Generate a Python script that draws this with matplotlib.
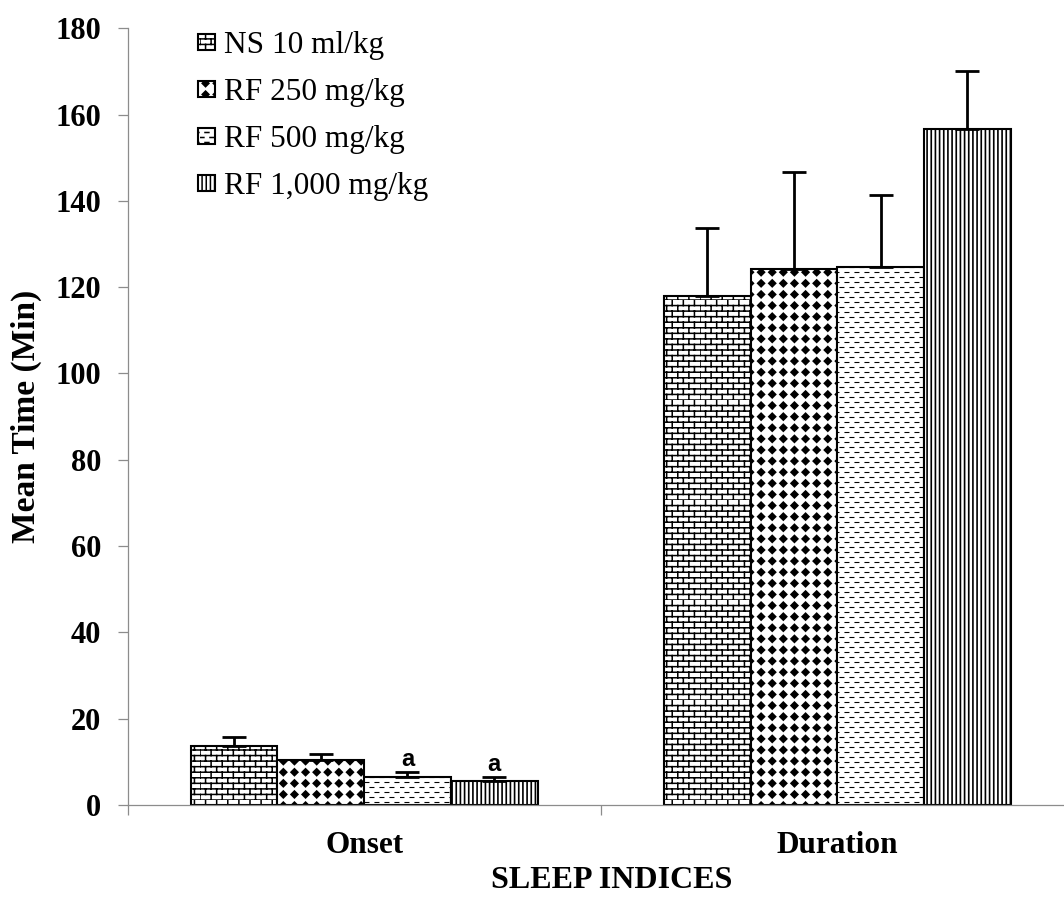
import warnings
import numpy as np
import matplotlib
matplotlib.use("Agg")
import matplotlib.pyplot as plt
from matplotlib import hatch as mhatch
from matplotlib.path import Path

warnings.filterwarnings("ignore")

# ---------------- data ----------------
categories = ["Onset", "Duration"]
groups = ["NS 10 ml/kg", "RF 250 mg/kg", "RF 500 mg/kg", "RF 1,000 mg/kg"]
ns_mean = [13.7, 117.9]
rf250_mean = [10.4, 124.2]
rf500_mean = [6.4, 124.7]
rf1000_mean = [5.6, 156.6]
ns_err = [2.1, 15.8]
rf250_err = [1.5, 22.5]
rf500_err = [1.2, 16.7]
rf1000_err = [0.8, 13.6]
ns_sig = ["", ""]
rf250_sig = ["", ""]
rf500_sig = ["a", ""]
rf1000_sig = ["a", ""]
yticks = [0, 20, 40, 60, 80, 100, 120, 140, 160, 180]

means = [ns_mean, rf250_mean, rf500_mean, rf1000_mean]
errs = [ns_err, rf250_err, rf500_err, rf1000_err]
sigs = [ns_sig, rf250_sig, rf500_sig, rf1000_sig]


# ---------------- custom hatch patterns ----------------
class BrickHatch(mhatch.HatchPatternBase):
    def __init__(self, hatch, density):
        self.on = "b" in hatch
        self.rows = 18
        self.cols = 9
        self.num_vertices = (2 * self.rows + 2 * self.rows * self.cols) if self.on else 0

    def set_vertices_and_codes(self, vertices, codes):
        r, c = self.rows, self.cols
        verts = []
        for i in range(r):
            y0, y1 = i / r, (i + 1) / r
            verts += [(0, y0), (1, y0)]
            off = 0.5 * (i % 2) / c
            for j in range(c):
                x = j / c + off
                verts += [(x, y0), (x, y1)]
        vertices[:] = verts
        codes[0::2] = Path.MOVETO
        codes[1::2] = Path.LINETO


class DiamondHatch(mhatch.HatchPatternBase):
    def __init__(self, hatch, density):
        self.on = "d" in hatch
        self.n = 9
        self.num_vertices = 5 * self.n * self.n if self.on else 0

    def set_vertices_and_codes(self, vertices, codes):
        n = self.n
        h = 0.034
        k = 0
        for i in range(n):
            for j in range(n):
                cx, cy = (j + 0.5) / n, (i + 0.5) / n
                vertices[k:k + 5] = [(cx - h, cy), (cx, cy - h), (cx + h, cy),
                                     (cx, cy + h), (cx - h, cy)]
                codes[k] = Path.MOVETO
                codes[k + 1:k + 4] = Path.LINETO
                codes[k + 4] = Path.CLOSEPOLY
                k += 5


class DashHatch(mhatch.HatchPatternBase):
    def __init__(self, hatch, density):
        self.on = "e" in hatch
        self.rows = 20
        self.m = 10
        self.num_vertices = 2 * self.rows * self.m if self.on else 0

    def set_vertices_and_codes(self, vertices, codes):
        r, m = self.rows, self.m
        L = 0.039
        verts = []
        for i in range(r):
            y = (i + 0.5) / r
            off = 0.5 * (i % 2) / m
            for j in range(m):
                x = j / m + off
                verts += [(x, y), (x + L, y)]
        vertices[:] = verts
        codes[0::2] = Path.MOVETO
        codes[1::2] = Path.LINETO


mhatch._hatch_types.extend([BrickHatch, DiamondHatch, DashHatch])

hatches = ["b", "d", "e", "||||"]
hatch_lw = [1.1, 1.2, 0.8, 1.2]

# ---------------- figure ----------------
plt.rcParams["font.family"] = ["Liberation Serif", "DejaVu Serif"]
plt.rcParams["hatch.linewidth"] = 1.1

fig = plt.figure(figsize=(10.64, 9.07), dpi=100)
ax = fig.add_axes([127.5 / 1064, 102 / 907, (1074 - 127.5) / 1064, (878.7 - 102) / 907])

x = np.arange(len(categories))
width = 0.1833
offsets = (np.arange(len(groups)) - 1.5) * width
gray = "#8c8c8c"

for k, grp in enumerate(groups):
    xpos = x + offsets[k]
    with plt.rc_context({"hatch.linewidth": hatch_lw[k]}):
        bars = ax.bar(xpos, means[k], width, color="white", edgecolor="black",
                      linewidth=1.5, hatch=hatches[k], label=grp, zorder=2)
    for b in bars:
        if hasattr(b, "set_hatch_linewidth"):
            b.set_hatch_linewidth(hatch_lw[k])
    ax.errorbar(xpos, means[k], yerr=[np.zeros(len(categories)), errs[k]],
                fmt="none", ecolor="black", elinewidth=2, capsize=8.5,
                capthick=2, zorder=3)
    for i, s in enumerate(sigs[k]):
        if s:
            ax.annotate(s, xy=(xpos[i], means[k][i] + errs[k][i]),
                        xytext=(0, 4.5), textcoords="offset points",
                        ha="center", va="baseline", fontsize=17,
                        fontweight="bold", family="Liberation Sans")

ax.set_xlim(-0.5, 1.5)
ax.set_ylim(0, 180)
ax.set_yticks(yticks)
ax.set_yticklabels([str(v) for v in yticks], fontsize=22, fontweight="bold")
ax.set_xticks(x)
ax.set_xticklabels(categories, fontsize=22.5, fontweight="bold")
ax.set_xticks([-0.5, 0.5, 1.5], minor=True)
ax.tick_params(axis="x", which="major", length=0, pad=19)
ax.tick_params(axis="x", which="minor", length=7, width=0.9, color=gray)
ax.tick_params(axis="y", length=7, width=0.9, color=gray, pad=12)

for side in ["top", "right"]:
    ax.spines[side].set_visible(False)
for side in ["left", "bottom"]:
    ax.spines[side].set_color(gray)
    ax.spines[side].set_linewidth(0.9)

fig.text(26 / 1064, 1 - 416 / 907, "Mean Time (Min)", rotation=90,
         ha="center", va="center", fontsize=24, fontweight="bold")
fig.text(612 / 1064, 1 - 880 / 907, "SLEEP INDICES", ha="center", va="center",
         fontsize=23, fontweight="bold")

leg = ax.legend(loc="upper left",
                bbox_to_anchor=((198 - 127.5) / 946.5, 1 - (31 - 28.3) / 776.4),
                frameon=False, fontsize=22.5, handlelength=0.54, handleheight=0.42,
                handletextpad=0.3, labelspacing=0.58, borderpad=0,
                borderaxespad=0)

fig.savefig("out.png", dpi=100)
